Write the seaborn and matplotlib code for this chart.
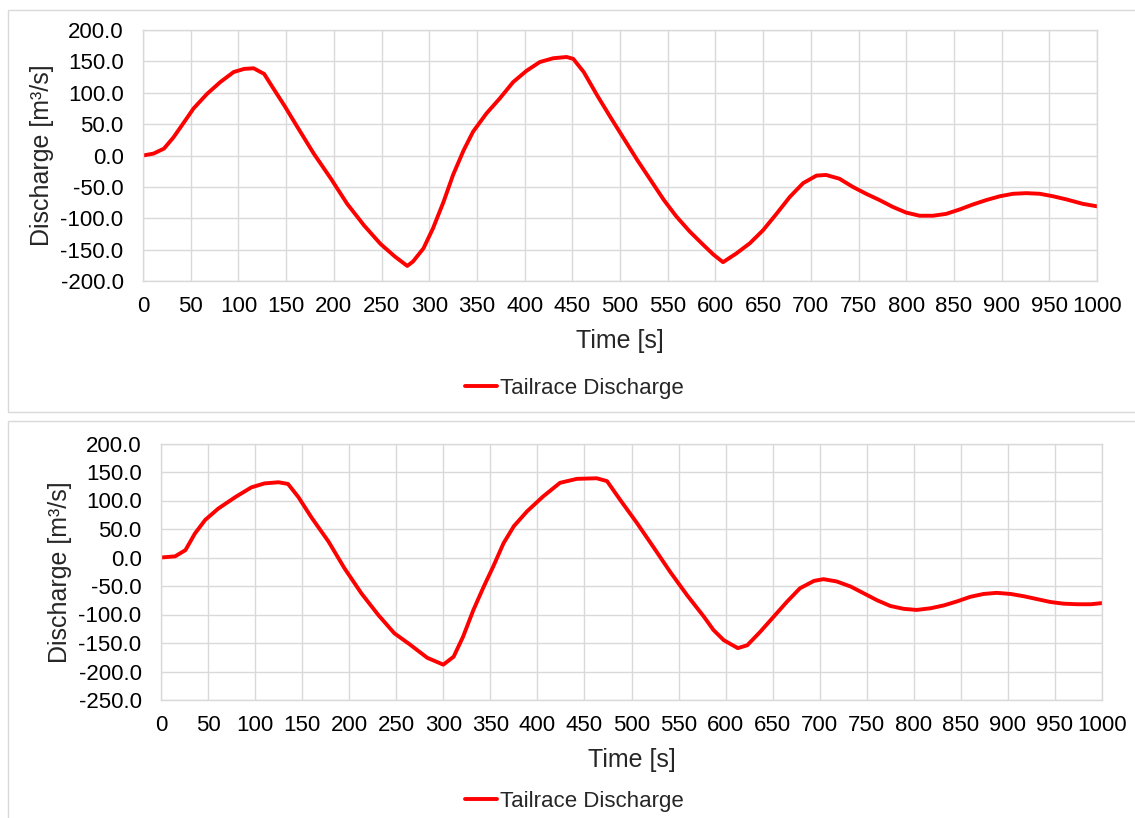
import matplotlib
matplotlib.use("Agg")
import matplotlib.pyplot as plt
import matplotlib.ticker as mticker
from matplotlib import font_manager
from matplotlib.patches import Rectangle
import pandas as pd
import seaborn as sns

# Tailrace discharge time histories (time in s, discharge in m3/s)
time_a = [0, 11, 22, 32, 43, 53, 67, 81, 95, 106, 116, 127, 137, 148, 162,
          179, 197, 214, 232, 249, 264, 277, 283, 294, 304, 315, 325, 336, 346,
          360, 374, 388, 402, 416, 430, 444, 451, 462, 476, 490, 504, 518, 532,
          546, 559, 573, 587, 598, 608, 622, 636, 650, 664, 678, 692, 706, 716,
          730, 744, 758, 772, 786, 800, 814, 828, 842, 856, 870, 884, 898, 912,
          926, 940, 954, 968, 985, 1000]
flow_a = [0, 3, 11, 29, 53, 75, 98, 117, 133, 138, 139, 130, 106, 80, 45,
          3, -37, -77, -112, -141, -161, -176, -169, -148, -116, -74, -31, 8, 38,
          67, 91, 117, 135, 149, 155, 157, 154, 133, 96, 61, 27, -7, -39,
          -71, -97, -121, -142, -158, -170, -156, -140, -119, -93, -66, -44, -32, -31,
          -37, -50, -61, -71, -82, -91, -96, -96, -93, -86, -78, -71, -65, -61,
          -60, -61, -65, -70, -77, -81]

time_b = [0, 15, 26, 36, 47, 61, 79, 96, 110, 125, 135, 146, 160, 178, 195,
          213, 231, 248, 264, 283, 300, 311, 321, 332, 343, 353, 364, 375, 389,
          406, 424, 442, 463, 474, 488, 506, 523, 541, 559, 577, 587, 598, 613,
          623, 637, 651, 665, 679, 694, 704, 718, 733, 747, 761, 775, 789, 803,
          818, 832, 846, 860, 874, 888, 903, 917, 931, 945, 959, 974, 988, 1000]
flow_b = [0, 2, 13, 42, 66, 86, 106, 123, 130, 132, 129, 106, 70, 28, -19,
          -63, -101, -133, -152, -176, -188, -174, -139, -92, -51, -16, 25, 55, 81,
          107, 131, 138, 139, 134, 101, 60, 19, -25, -66, -104, -127, -145, -159,
          -154, -130, -104, -78, -54, -41, -38, -42, -51, -63, -75, -85, -90, -92,
          -89, -84, -77, -69, -64, -62, -64, -68, -73, -78, -81, -82, -82, -80]

series_label = "Tailrace Discharge"
x_ticks = list(range(0, 1001, 50))
y_ticks_a = list(range(-200, 201, 50))
y_ticks_b = list(range(-250, 201, 50))

sns.set_theme(style="white")
plt.rcParams["font.family"] = ["Liberation Sans", "DejaVu Sans"]
plt.rcParams["axes.unicode_minus"] = False

installed = {f.name for f in font_manager.fontManager.ttflist}
narrow = "Liberation Sans Narrow" if "Liberation Sans Narrow" in installed else None

W, H = 1135, 818
fig = plt.figure(figsize=(W / 100, H / 100), dpi=100)
fig.patch.set_facecolor("white")


def fx(px):
    return px / W


def fy(py):
    return 1 - py / H


grid_col = "#d9d9d9"

# panel frames
fig.patches.append(Rectangle((fx(7.5), fy(412.5)), 1.1, fy(10.5) - fy(412.5),
                             transform=fig.transFigure, fill=False,
                             edgecolor=grid_col, linewidth=1.0))
fig.patches.append(Rectangle((fx(7.5), fy(830)), 1.1, fy(421) - fy(830),
                             transform=fig.transFigure, fill=False,
                             edgecolor=grid_col, linewidth=1.0))

panels = [
    dict(t=time_a, q=flow_a, yt=y_ticks_a, box=(143, 30, 1097, 281),
         ylab_x=42, xlab_y=341, legend_y=388),
    dict(t=time_b, q=flow_b, yt=y_ticks_b, box=(161, 443.5, 1102, 700),
         ylab_x=60, xlab_y=760, legend_y=801),
]

for p in panels:
    l, t, r, b = p["box"]
    ax = fig.add_axes([fx(l), fy(b), fx(r) - fx(l), fy(t) - fy(b)])
    df = pd.DataFrame({"Time": p["t"], "Discharge": p["q"]})
    sns.lineplot(data=df, x="Time", y="Discharge", ax=ax, color="#ff0000",
                 linewidth=2.8, label=series_label, sort=False,
                 solid_joinstyle="round", solid_capstyle="round")
    ax.set_xlim(0, 1000)
    ax.set_ylim(min(p["yt"]), max(p["yt"]))
    ax.set_xticks(x_ticks)
    ax.set_yticks(p["yt"])
    ax.yaxis.set_major_formatter(mticker.FormatStrFormatter("%.1f"))
    ax.grid(True, color=grid_col, linewidth=1.0)
    ax.set_axisbelow(True)
    for s in ax.spines.values():
        s.set_color(grid_col)
        s.set_linewidth(1.0)
    ax.tick_params(axis="both", length=0, colors="black")
    ax.tick_params(axis="y", pad=14, labelsize=16)
    ax.tick_params(axis="x", pad=11, labelsize=16)
    if narrow:
        for lab in ax.get_xticklabels():
            lab.set_family([narrow, "Liberation Sans"])
            lab.set_fontsize(17)
    ax.set_xlabel("")
    ax.set_ylabel("")
    ax.legend_.remove()
    fig.text(fx(p["ylab_x"]), fy((t + b) / 2), "Discharge [m³/s]", rotation=90,
             ha="center", va="center", fontsize=18)
    fig.text(fx((l + r) / 2), fy(p["xlab_y"]), "Time [s]", ha="center",
             va="center", fontsize=18)
    handles, labels = ax.get_legend_handles_labels()
    fig.legend(handles, labels, loc="center",
               bbox_to_anchor=(fx(574), fy(p["legend_y"])),
               bbox_transform=fig.transFigure, frameon=False, fontsize=16,
               handlelength=1.45, handletextpad=0.12)

fig.savefig("out.png", dpi=100, facecolor="white")
